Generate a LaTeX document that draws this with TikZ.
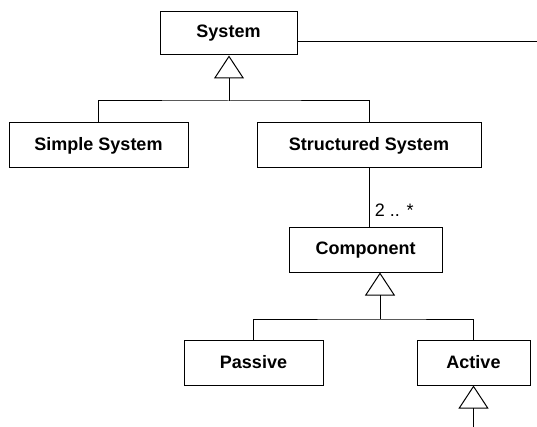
\documentclass[tikz,border=0pt]{standalone}
\usepackage{fontspec}
\setmainfont{Liberation Sans}
\usetikzlibrary{positioning, arrows.meta}

\begin{document}
\begin{tikzpicture}[
    x=1pt, y=-1pt,
    every path/.style={line width=1pt},
    classbox/.style={rectangle, draw, line width=1pt, inner sep=0pt, minimum height=45pt, font=\fontsize{18}{20}\selectfont\bfseries},
    gen/.style={-{Triangle[open, length=23pt, width=30pt]}},
    mult/.style={font=\fontsize{18}{20}\selectfont}
]
\useasboundingbox (0,0) rectangle (537,427);

\node[classbox, minimum width=137pt, minimum height=43pt] (system) at (228.5, 33.5) {System};
\node[classbox, minimum width=179pt] (simple) at (98.5, 145.5) {Simple System};
\node[classbox, minimum width=224pt] (struct) at (369, 145.5) {Structured System};
\node[classbox, minimum width=153pt, minimum height=44pt] (comp) at (365.5, 250) {Component};
\node[classbox, minimum width=139pt] (passive) at (253.5, 362.5) {Passive};
\node[classbox, minimum width=113pt] (active) at (473.5, 362.5) {Active};

\coordinate (sysjoin) at (229, 101);
\coordinate (compjoin) at (380, 319);
\coordinate (rightend) at (537, 42);
\coordinate (activein) at (473.5, 427);

\draw (system.east |- rightend) -- (rightend);
\draw (simple.north) |- (sysjoin) -| (struct.north);
\draw[gen] (sysjoin) -- (sysjoin |- system.south);
\draw (struct.south) -- node[mult, right, pos=0.7, xshift=2pt] {2 .. *} (struct.south |- comp.north);
\draw (passive.north) |- (compjoin) -| (active.north);
\draw[gen] (compjoin) -- (compjoin |- comp.south);
\draw[gen] (activein) -- (active.south);

\end{tikzpicture}
\end{document}
